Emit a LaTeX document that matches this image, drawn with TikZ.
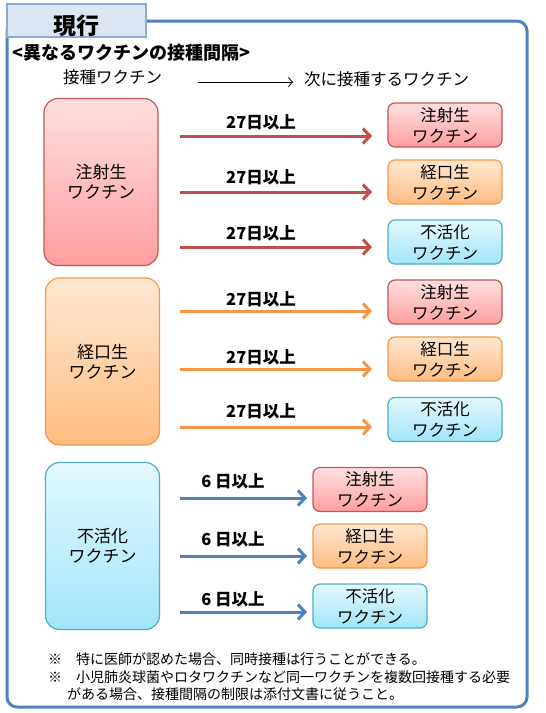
\documentclass[tikz,border=0pt]{standalone}
\usepackage{fontspec}
\newfontfamily\jp{Noto Sans CJK JP}
\usetikzlibrary{arrows.meta}
\definecolor{framec}{RGB}{79,129,189}
\definecolor{titlefill}{RGB}{220,230,242}
\definecolor{titleline}{RGB}{140,172,212}
\definecolor{redline}{RGB}{196,86,84}
\definecolor{redtop}{RGB}{255,224,224}
\definecolor{redbot}{RGB}{255,158,158}
\definecolor{orline}{RGB}{247,150,70}
\definecolor{ortop}{RGB}{255,232,210}
\definecolor{orbot}{RGB}{255,188,128}
\definecolor{blline}{RGB}{82,172,200}
\definecolor{bltop}{RGB}{228,249,254}
\definecolor{blbot}{RGB}{160,229,250}
\definecolor{redarrc}{RGB}{192,80,77}
\definecolor{orarrc}{RGB}{247,150,70}
\definecolor{blarrc}{RGB}{79,129,189}
\tikzset{
  bigbox/.style={rectangle, rounded corners=14pt, minimum width=114pt, minimum height=167pt,
    line width=1.2pt, align=center, inner sep=0pt, font=\jp\fontsize{17}{20}\selectfont},
  smallbox/.style={rectangle, rounded corners=7pt, minimum width=114pt, minimum height=44pt,
    line width=1.2pt, align=center, inner sep=0pt, font=\jp\fontsize{16.5}{21}\selectfont},
  redfill/.style={draw=redline, top color=redtop, bottom color=redbot},
  orfill/.style={draw=orline, top color=ortop, bottom color=orbot},
  blfill/.style={draw=blline, top color=bltop, bottom color=blbot},
  thickarr/.style={line width=3pt, -{Straight Barb[length=7pt,width=15pt]}},
  redarr/.style={thickarr, draw=redarrc},
  orarr/.style={thickarr, draw=orarrc},
  blarr/.style={thickarr, draw=blarrc},
  daylabel/.style={font=\jp\bfseries\fontsize{16.5}{18}\selectfont, inner sep=0pt},
  notetext/.style={anchor=west, inner sep=0pt, font=\jp\fontsize{14}{16}\selectfont},
  plaintext/.style={anchor=west, inner sep=0pt, font=\jp\fontsize{16.5}{18}\selectfont}
}
\begin{document}
\begin{tikzpicture}[x=1pt,y=-1pt]
\useasboundingbox (0,0) rectangle (546,713);
% outer frame
\draw[framec, line width=3pt, rounded corners=10pt] (7,21) rectangle (527,707);
% title
\node[draw=titleline, fill=titlefill, line width=1.5pt, minimum width=139pt, minimum height=33pt,
  inner sep=0pt, text height=28pt, text depth=0pt,
  font=\jp\bfseries\fontsize{23}{25}\selectfont] (title) at (76.5,20.5) {現行};
% heading
\node[anchor=west, inner sep=0pt, font=\jp\bfseries\fontsize{18}{20}\selectfont] (head) at (12,53) {<異なるワクチンの接種間隔>};
\node[plaintext] (src) at (63,77) {接種ワクチン};
\node[plaintext] (dst) at (304,79) {次に接種するワクチン};
\coordinate (ts) at (198,82);
\coordinate (te) at (293,82);
\draw[line width=0.8pt, -{Straight Barb[length=4pt,width=9pt]}] (ts) -- (te);

% big boxes
\node[bigbox, redfill] (big1) at (101,182) {注射生\\ワクチン};
\node[bigbox, orfill] (big2) at (102.5,361.5) {経口生\\ワクチン};
\node[bigbox, blfill] (big3) at (102.5,546) {不活化\\ワクチン};

% section 1 targets
\node[smallbox, redfill] (s11) at (445,125) {注射生\\ワクチン};
\node[smallbox, orfill] (s12) at (445,182) {経口生\\ワクチン};
\node[smallbox, blfill] (s13) at (445,242) {不活化\\ワクチン};
% section 2 targets
\node[smallbox, redfill] (s21) at (445,302) {注射生\\ワクチン};
\node[smallbox, orfill] (s22) at (445,359) {経口生\\ワクチン};
\node[smallbox, blfill] (s23) at (445,419.5) {不活化\\ワクチン};
% section 3 targets
\node[smallbox, redfill] (s31) at (370,489.5) {注射生\\ワクチン};
\node[smallbox, orfill] (s32) at (370,546) {経口生\\ワクチン};
\node[smallbox, blfill] (s33) at (370,606) {不活化\\ワクチン};

% arrows section 1
\coordinate (a11s) at (180,136); \coordinate (a11e) at (372,136);
\coordinate (a12s) at (180,192); \coordinate (a12e) at (372,192);
\coordinate (a13s) at (180,247); \coordinate (a13e) at (372,247);
\draw[redarr] (a11s) -- (a11e);
\draw[redarr] (a12s) -- (a12e);
\draw[redarr] (a13s) -- (a13e);
\node[daylabel] (l11) at (261,122) {27日以上};
\node[daylabel] (l12) at (261,177) {27日以上};
\node[daylabel] (l13) at (261,233) {27日以上};
% arrows section 2
\coordinate (a21s) at (180,311); \coordinate (a21e) at (372,311);
\coordinate (a22s) at (180,369); \coordinate (a22e) at (372,369);
\coordinate (a23s) at (180,427); \coordinate (a23e) at (372,427);
\draw[orarr] (a21s) -- (a21e);
\draw[orarr] (a22s) -- (a22e);
\draw[orarr] (a23s) -- (a23e);
\node[daylabel] (l21) at (261,299) {27日以上};
\node[daylabel] (l22) at (261,357) {27日以上};
\node[daylabel] (l23) at (261,411) {27日以上};
% arrows section 3
\coordinate (a31s) at (180,498); \coordinate (a31e) at (307,498);
\coordinate (a32s) at (180,556); \coordinate (a32e) at (307,556);
\coordinate (a33s) at (180,612); \coordinate (a33e) at (307,612);
\draw[blarr] (a31s) -- (a31e);
\draw[blarr] (a32s) -- (a32e);
\draw[blarr] (a33s) -- (a33e);
\node[daylabel] (l31) at (233,481) {6 日以上};
\node[daylabel] (l32) at (233,539) {6 日以上};
\node[daylabel] (l33) at (233,599) {6 日以上};

% notes
\node[notetext] (n1) at (48,659) {※　特に医師が認めた場合、同時接種は行うことができる。};
\node[notetext] (n2) at (48,677) {※　小児肺炎球菌やロタワクチンなど同一ワクチンを複数回接種する必要};
\node[notetext] (n3) at (67,694) {がある場合、接種間隔の制限は添付文書に従うこと。};
\end{tikzpicture}
\end{document}
